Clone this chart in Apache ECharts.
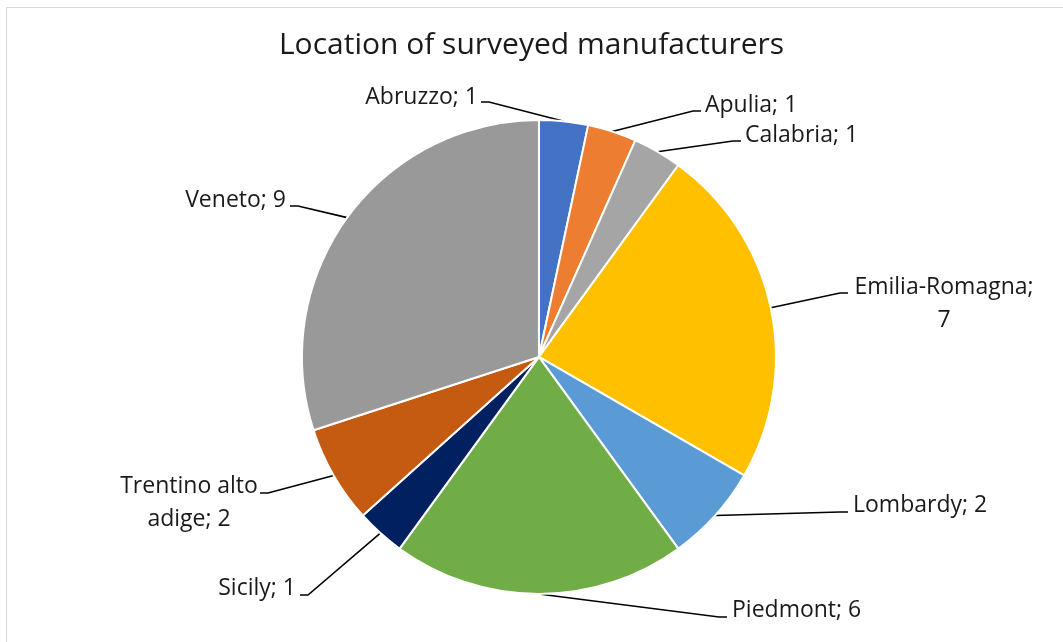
<!DOCTYPE html>
<html>
<head>
<meta charset="utf-8">
<script src="https://cdn.jsdelivr.net/npm/echarts@6/dist/echarts.min.js"></script>
<style>
html,body{margin:0;padding:0;background:#fff;}
#frame{position:absolute;left:6px;top:7px;width:1100px;height:700px;border:1.5px solid #d9d9d9;box-sizing:border-box;}
#chart{position:absolute;left:0;top:0;width:1063px;height:642px;}
</style>
</head>
<body>
<div id="frame"></div>
<div id="chart"></div>
<script>
const titleText = 'Location of surveyed manufacturers';
const regions = ['Abruzzo', 'Apulia', 'Calabria', 'Emilia-Romagna', 'Lombardy', 'Piedmont', 'Sicily', 'Trentino alto adige', 'Veneto'];
const counts = [1, 1, 1, 7, 2, 6, 1, 2, 9];
const colors = ['#4472C4', '#ED7D31', '#A5A5A5', '#FFC000', '#5B9BD5', '#70AD47', '#002060', '#C55A11', '#999999'];
const labelTexts = ['Abruzzo; 1', 'Apulia; 1', 'Calabria; 1', 'Emilia-Romagna;\n7', 'Lombardy; 2', 'Piedmont; 6', 'Sicily; 1', 'Trentino alto\nadige; 2', 'Veneto; 9'];

// label placement (text anchor + leader-line end near the text)
const labelPlacement = [
  {x: 478, y: 97,  align: 'right',  lx: 481, ly: 102, dir: 1},
  {x: 705, y: 105, align: 'left',   lx: 701, ly: 111, dir: -1},
  {x: 745, y: 135, align: 'left',   lx: 741, ly: 141, dir: -1},
  {x: 944, y: 304, align: 'center', lx: 848, ly: 293, dir: -1},
  {x: 853, y: 505, align: 'left',   lx: 848, ly: 512, dir: -1},
  {x: 732, y: 610, align: 'left',   lx: 727, ly: 617, dir: -1},
  {x: 296, y: 588, align: 'right',  lx: 300, ly: 595, dir: 1},
  {x: 189, y: 503, align: 'center', lx: 260, ly: 493, dir: 1},
  {x: 286, y: 200, align: 'right',  lx: 290, ly: 206, dir: 1}
];

const chart = echarts.init(document.getElementById('chart'), null, {renderer: 'canvas'});
const data = regions.map((r, i) => ({
  name: r,
  value: counts[i],
  itemStyle: {color: colors[i]},
  label: {formatter: labelTexts[i]}
}));
chart.setOption({
  animation: false,
  title: {
    text: titleText,
    left: 'center',
    top: 25,
    textStyle: {fontFamily: 'Open Sans', fontSize: 30, fontWeight: 'normal', color: '#1a1a1a'}
  },
  series: [{
    type: 'pie',
    center: ['50.7%', '55.6%'],
    radius: 237,
    startAngle: 90,
    clockwise: true,
    data: data,
    itemStyle: {borderColor: '#ffffff', borderWidth: 2},
    label: {
      position: 'outside',
      fontFamily: 'Open Sans',
      fontSize: 23,
      color: '#1a1a1a',
      lineHeight: 33
    },
    labelLine: {
      show: true,
      length: 18,
      length2: 50,
      smooth: false,
      lineStyle: {color: '#000', width: 1.6}
    },
    labelLayout: function (params) {
      const p = labelPlacement[params.dataIndex];
      const edge = params.labelLinePoints ? params.labelLinePoints[0] : [p.lx, p.ly];
      return {
        x: p.x,
        y: p.y,
        align: p.align,
        verticalAlign: 'middle',
        labelLinePoints: [edge, [p.lx + p.dir * 8, p.ly], [p.lx, p.ly]]
      };
    }
  }]
});
</script>
</body>
</html>
